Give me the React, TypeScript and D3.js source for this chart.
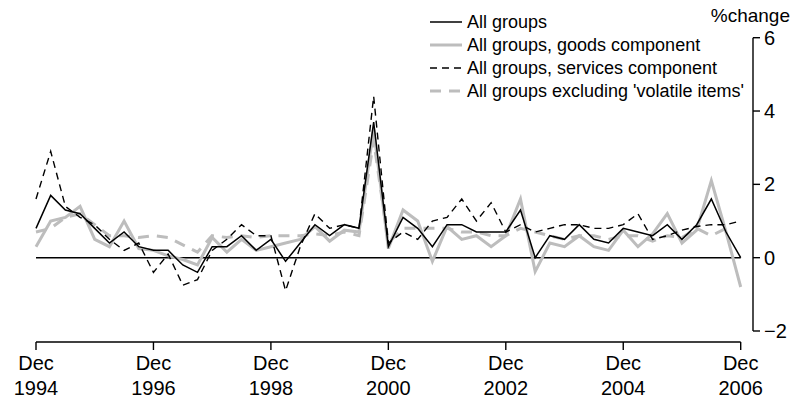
import React from "react";
import * as d3 from "d3";

const quarters: string[] = d3.range(49).map((i) => {
  const months = ["Dec", "Mar", "Jun", "Sep"];
  const yr = 1994 + Math.floor((i + 3) / 4);
  return `${months[i % 4]} ${yr}`;
});

const allGroups: number[] = [
  0.8, 1.7, 1.3, 1.2, 0.8, 0.4, 0.7, 0.3, 0.2, 0.2, -0.2, -0.4, 0.3, 0.3, 0.6, 0.2,
  0.5, -0.1, 0.4, 0.9, 0.6, 0.9, 0.8, 3.7, 0.3, 1.1, 0.8, 0.3, 0.9, 0.9, 0.7, 0.7,
  0.7, 1.3, 0.0, 0.6, 0.5, 0.9, 0.5, 0.4, 0.8, 0.7, 0.6, 0.9, 0.5, 0.9, 1.6, 0.7, 0.0,
];
const goods: number[] = [
  0.3, 1.0, 1.1, 1.4, 0.5, 0.3, 1.0, 0.25, 0.2, 0.05, -0.05, -0.2, 0.55, 0.15, 0.5, 0.2,
  0.3, 0.4, 0.5, 0.85, 0.45, 0.75, 0.7, 3.5, 0.25, 1.3, 1.0, -0.1, 0.85, 0.5, 0.6, 0.3,
  0.6, 1.6, -0.38, 0.4, 0.3, 0.6, 0.3, 0.2, 0.75, 0.3, 0.65, 1.2, 0.4, 0.75, 2.1, 0.7, -0.8,
];
const services: number[] = [
  1.6, 2.9, 1.4, 1.1, 0.9, 0.5, 0.2, 0.4, -0.4, 0.1, -0.75, -0.6, 0.2, 0.5, 0.9, 0.6,
  0.6, -0.9, 0.3, 1.2, 0.8, 0.9, 0.8, 4.4, 0.4, 0.7, 0.5, 1.0, 1.1, 1.6, 1.0, 1.5,
  0.7, 0.9, 0.7, 0.8, 0.9, 0.9, 0.8, 0.8, 0.9, 1.2, 0.5, 0.6, 0.75, 0.85, 0.9, 0.9, 1.0,
];
const exVolatile: (number | null)[] = [
  0.7, 0.8, 1.1, 1.2, 0.9, 0.6, 0.6, 0.55, 0.6, 0.55, 0.35, 0.15, 0.6, 0.55, 0.6, 0.55,
  0.6, 0.6, 0.6, 0.65, 0.6, 0.7, 0.6, 3.2, 0.4, 0.8, 0.8, 0.8, 0.8, 0.7, 0.7, 0.6,
  0.6, 0.8, 0.7, 0.6, 0.5, 0.6, 0.6, 0.5, 0.6, 0.6, 0.45, 0.6, 0.55, 0.8, 0.6, 0.8, null,
];

const xTickIdx: number[] = [0, 8, 16, 24, 32, 40, 48];
const xTickYears: string[] = ["1994", "1996", "1998", "2000", "2002", "2004", "2006"];
const yTicks: number[] = [6, 4, 2, 0, -2];

const legendItems = [
  { label: "All groups", color: "#000", width: 1.5, dash: "" },
  { label: "All groups, goods component", color: "#bdbdbd", width: 3, dash: "" },
  { label: "All groups, services component", color: "#000", width: 1.4, dash: "7,5" },
  { label: "All groups excluding 'volatile items'", color: "#bdbdbd", width: 3, dash: "11,8" },
];

const FONT = "'Liberation Sans', Arial, sans-serif";

export default function App() {
  const x = d3.scaleLinear().domain([0, 48]).range([36, 740.7]);
  const y = d3.scaleLinear().domain([-2, 6]).range([331, 37.7]);

  const line = d3
    .line<number | null>()
    .defined((d) => d !== null)
    .x((_, i) => x(i))
    .y((d) => y(d as number));

  const series = [
    { data: goods, color: "#bdbdbd", width: 3, dash: "" },
    { data: exVolatile, color: "#bdbdbd", width: 3, dash: "11,8" },
    { data: services, color: "#000", width: 1.4, dash: "7,5" },
    { data: allGroups, color: "#000", width: 1.5, dash: "" },
  ];

  const axisX = 753;
  const baseY = 342;

  return (
    <svg
      width={794}
      height={403}
      style={{ position: "absolute", left: 0, top: 0, background: "#fff" }}
      fontFamily={FONT}
    >
      <rect width={794} height={403} fill="#fff" />
      <line x1={x(0)} x2={x(48)} y1={y(0)} y2={y(0)} stroke="#000" strokeWidth={1.4} />
      {series.map((s, k) => (
        <path
          key={k}
          d={line(s.data as (number | null)[]) || ""}
          fill="none"
          stroke={s.color}
          strokeWidth={s.width}
          strokeDasharray={s.dash || undefined}
          strokeLinejoin="miter"
        />
      ))}
      <line x1={x(0)} x2={x(48)} y1={baseY} y2={baseY} stroke="#000" strokeWidth={1.4} />
      {xTickIdx.map((t, k) => (
        <g key={k}>
          <line x1={x(t)} x2={x(t)} y1={baseY} y2={baseY + 8} stroke="#000" strokeWidth={1.4} />
          <text x={x(t)} y={370} textAnchor="middle" fontSize={20} fill="#000">
            {quarters[t].split(" ")[0]}
          </text>
          <text x={x(t)} y={395} textAnchor="middle" fontSize={20} fill="#000">
            {xTickYears[k]}
          </text>
        </g>
      ))}
      <line x1={axisX} x2={axisX} y1={y(6)} y2={y(-2)} stroke="#000" strokeWidth={1.4} />
      {yTicks.map((t) => (
        <g key={t}>
          <line x1={axisX} x2={axisX + 7} y1={y(t)} y2={y(t)} stroke="#000" strokeWidth={1.4} />
          <text x={764} y={y(t) + 7} fontSize={20} fill="#000">
            {t < 0 ? `\u2212${Math.abs(t)}` : `${t}`}
          </text>
        </g>
      ))}
      <text x={790} y={22} textAnchor="end" fontSize={19} fill="#000">
        %change
      </text>
      {legendItems.map((it, k) => {
        const ly = 22 + k * 23;
        return (
          <g key={k}>
            <line
              x1={430}
              x2={462}
              y1={ly}
              y2={ly}
              stroke={it.color}
              strokeWidth={it.width}
              strokeDasharray={it.dash || undefined}
            />
            <text x={467} y={ly + 6} fontSize={18} fill="#000">
              {it.label}
            </text>
          </g>
        );
      })}
    </svg>
  );
}
